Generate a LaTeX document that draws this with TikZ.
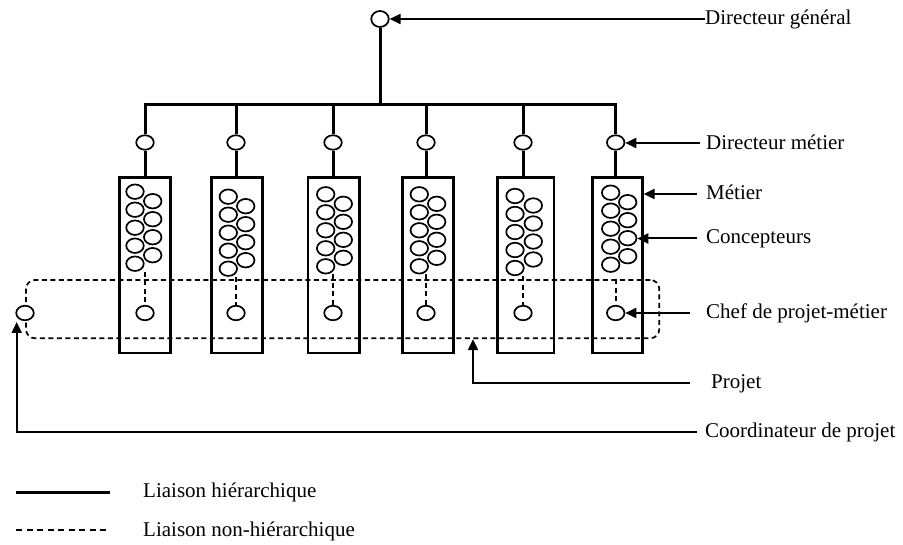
\documentclass[tikz,border=0pt]{standalone}
\usepackage{fontspec}
\setmainfont{Liberation Serif}
\usetikzlibrary{shapes.geometric,arrows.meta,calc}
\begin{document}
\begin{tikzpicture}[x=1pt,y=-1pt,
  pers/.style={ellipse,draw,line width=1.7pt,fill=white,minimum width=17.5pt,minimum height=14.5pt,inner sep=0pt},
  hier/.style={line width=3pt},
  metier/.style={rectangle,draw,line width=2.6pt,inner sep=0pt,minimum height=175.5pt},
  nonhier/.style={line width=1.7pt,dash pattern=on 5pt off 3.5pt},
  arr/.style={line width=2pt,-{Triangle[length=11pt,width=10pt]}},
  lab/.style={anchor=base west,inner sep=0pt,font=\fontsize{21}{25}\selectfont}
]
\useasboundingbox (0,0) rectangle (903,545);

% top
\node[pers,minimum width=17.5pt,minimum height=16pt] (dg) at (380,19) {};
\coordinate (busM) at (380,105);

% columns: branch x / box left / box right / left circles x / right circles x / first y
\foreach \i/\bx/\bl/\br/\lx/\rx/\yo in {
  1/145/119.3/170.7/135/152.7/191.7,
  2/236/211.7/262.7/228.3/245.7/196.7,
  3/333/308/359.3/325.7/343.3/194.3,
  4/426/402.7/453.3/419.3/436.7/194.3,
  5/523/497.7/554/515/533.3/196,
  6/615.7/592.3/642.3/610.7/627.7/192.7}{
  \node[pers] (dm\i) at (\bx,142.5) {};
  \pgfmathsetmacro{\bw}{\br-\bl}
  \pgfmathsetmacro{\bc}{(\br+\bl)/2}
  \node[metier,minimum width=\bw pt] (box\i) at (\bc,265.25) {};
  \draw[hier] (dm\i) -- (dm\i |- box\i.north);
  \foreach \k in {0,...,4}{
    \node[pers] (cl\i-\k) at (\lx,{\yo+18*\k}) {};
  }
  \foreach \k in {0,...,3}{
    \node[pers] (cr\i-\k) at (\rx,{\yo+9.5+18*\k}) {};
  }
  \node[pers] (cp\i) at (\bx,313) {};
}

% hierarchy bus
\draw[hier] (dg) -- (busM);
\draw[hier,line join=miter] (dm1) -- (dm1 |- busM) -- (dm6 |- busM) -- (dm6);
\foreach \i in {2,3,4,5}{
  \draw[hier] (dm\i |- busM) -- (dm\i);
}

% project (dashed)
\node[draw,nonhier,rounded corners=9pt,minimum width=633.3pt,minimum height=58.3pt,inner sep=0pt] (proj) at (342.65,309.15) {};
\foreach \i in {1,...,5}{
  \draw[nonhier] (cp\i |- cl\i-4.south) -- (cp\i);
}
\draw[nonhier] (cp6 |- proj.north) -- (cp6);
\node[pers] (coord) at (25,313) {};

% labels
\node[lab] (tdg) at (705,25) {Directeur général};
\node[lab] (tdm) at (706,150) {Directeur métier};
\node[lab] (tme) at (706,200) {Métier};
\node[lab] (tco) at (706,244) {Concepteurs};
\node[lab] (tcp) at (706,319) {Chef de projet-métier};
\node[lab] (tpr) at (711,389) {Projet};
\node[lab] (tcd) at (705,438) {Coordinateur de projet};

\coordinate (sdm) at (700,143);
\coordinate (sme) at (697,194);
\coordinate (sco) at (697,238.5);
\coordinate (scp) at (690,313);
\coordinate (spr) at (690,383);
\coordinate (spx) at (473,383);
\coordinate (scd) at (697,432);
\coordinate (cdtip) at (16.7,322);

\draw[arr] (dg -| tdg.west) -- (dg.east);
\draw[arr] (sdm) -- (dm6.east |- sdm);
\draw[arr] (sme) -- (box6.east |- sme);
\draw[arr] (sco) -- (cr6-2.east |- sco);
\draw[arr] (scp) -- (cp6.east);
\draw[arr] (spr) -- (spx) -- (spx |- proj.south);
\draw[arr] (scd) -| (cdtip);

% legend
\coordinate (la) at (16,492.5);
\coordinate (lb) at (110,492.5);
\coordinate (lc) at (16,530);
\coordinate (ld) at (110,530);
\draw[hier] (la) -- (lb);
\draw[line width=1.3pt,dash pattern=on 6pt off 4.5pt] (lc) -- (ld);
\node[lab] (t1) at (143,497.5) {Liaison hiérarchique};
\node[lab] (t2) at (143,536) {Liaison non-hiérarchique};
\end{tikzpicture}
\end{document}
